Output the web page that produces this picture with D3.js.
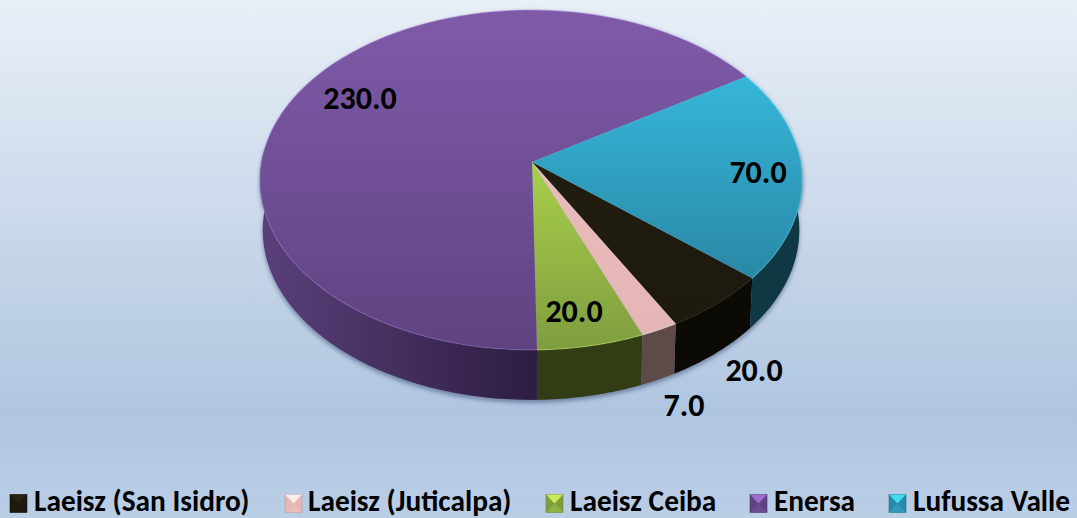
<!DOCTYPE html>
<html><head><meta charset="utf-8">
<script src="https://cdn.jsdelivr.net/npm/d3@7"></script>
<style>html,body{margin:0;padding:0;background:#fff}svg{display:block}text{font-family:"Carlito","Open Sans","Noto Sans",sans-serif}</style>
</head><body><div id="c"></div>
<script>
const categories=["Laeisz (San Isidro)","Laeisz (Juticalpa)","Laeisz Ceiba","Enersa","Lufussa Valle"];
const values=[20,7,20,230,70];
const labels=["20.0","7.0","20.0","230.0","70.0"];
const labelX=[754,684,574,360,758];
const labelY=[381,416,322,109,183];
const topA=["#211d11","#e8bcbb","#a8d04a","#7f5aa9","#36b6d9"];
const topB=["#1d190e","#e4b6b5","#7f9d3f","#5f4381","#2a88a6"];
const sideA=["#0b0a05","#5e4b49","#323c15","#2d1e42","#0f3844"];
const sideB=["#0b0a05","#665250","#343f17","#5a3f7a","#143f4c"];
const W=1077,H=518,cx=531,cy=162,rx=269.5,ry=168,k=0.106,depth=50,shrink=0.99;
const svg=d3.select("#c").append("svg").attr("width",W).attr("height",H);
const defs=svg.append("defs");
const bg=defs.append("linearGradient").attr("id","bg").attr("x1",0).attr("y1",0).attr("x2",0).attr("y2",1);
bg.append("stop").attr("offset",0).attr("stop-color","#e9eff7");
bg.append("stop").attr("offset",0.8).attr("stop-color","#afc5e0");
bg.append("stop").attr("offset",1).attr("stop-color","#bacee6");
svg.append("rect").attr("width",W).attr("height",H).attr("fill","url(#bg)");
const blur=defs.append("filter").attr("id","sh").attr("x","-10%").attr("y","-10%").attr("width","120%").attr("height","120%");
blur.append("feGaussianBlur").attr("stdDeviation",2.2);
const proj=(a,r=1)=>{const u=Math.sin(a)*r,v=Math.cos(a)*r,w=1+k*v;return [cx+rx*u/w,cy-ry*v/w];};
const low=p=>[cx+(p[0]-cx)*shrink,p[1]+depth];
const pie=d3.pie().sort(null).value(d=>d).startAngle(130.1*Math.PI/180).endAngle((130.1+360)*Math.PI/180);
const arcs=pie(values);
const samp=(a,b)=>d3.range(0,91).map(i=>a+(b-a)*i/90);
const line=d3.line();
categories.forEach((c,i)=>{
 const g=defs.append("linearGradient").attr("id","t"+i).attr("x1",0).attr("y1",0).attr("x2",0).attr("y2",1);
 g.append("stop").attr("offset",0).attr("stop-color",topA[i]);
 g.append("stop").attr("offset",1).attr("stop-color",topB[i]);
 const s=defs.append("linearGradient").attr("id","s"+i).attr("gradientUnits","userSpaceOnUse").attr("x1",cx-rx).attr("y1",0).attr("x2",cx).attr("y2",0);
 s.append("stop").attr("offset",0).attr("stop-color",sideB[i]);
 s.append("stop").attr("offset",1).attr("stop-color",sideA[i]);
});
const sil=()=>{
 const a=samp(Math.PI/2-0.1,Math.PI*1.5+0.1).map(t=>proj(t));
 const b=a.slice().reverse().map(low);
 return line(a.concat(b))+"Z";
};
svg.append("path").attr("d",sil()).attr("transform","translate(0,3)").attr("fill","#46597a").attr("opacity",.6).attr("filter","url(#sh)");
svg.append("path").attr("d",line(samp(0,2*Math.PI).map(t=>proj(t)))+"Z").attr("transform","translate(1,1)").attr("fill","#46597a").attr("opacity",.4).attr("filter","url(#sh)");
arcs.forEach((d,i)=>{
 const vis=samp(d.startAngle,d.endAngle).filter(t=>Math.cos(t)<0.12);
 if(vis.length<2)return;
 const a=vis.map(t=>proj(t));
 const b=a.slice().reverse().map(low);
 svg.append("path").attr("d",line(a.concat(b))+"Z").attr("fill",`url(#s${i})`);
});
arcs.forEach((d,i)=>{
 const pts=samp(d.startAngle,d.endAngle).map(t=>proj(t));
 svg.append("path").attr("d",line([[cx+1,cy]].concat(pts))+"Z").attr("fill",`url(#t${i})`);
});
arcs.forEach((d,i)=>{
 const pts=samp(d.startAngle,d.endAngle).map(t=>proj(t));
 svg.append("path").attr("d",line(pts)).attr("fill","none").attr("stroke",d3.color(topA[i]).brighter(0.7)).attr("stroke-opacity",.4).attr("stroke-width",1.2);
});
labels.forEach((t,i)=>{
 svg.append("text").attr("x",labelX[i]).attr("y",labelY[i]).attr("text-anchor","middle").attr("font-size",32).attr("font-weight",700).attr("fill","#000").text(t);
});
const legX=[10,285,546,750,889];
const legTX=[34,308,570,774,913];
categories.forEach((c,i)=>{
 const s=17,h=18,x=legX[i],y=494.5;
 svg.append("rect").attr("x",x).attr("y",y).attr("width",s).attr("height",h).attr("fill",topB[i]).attr("stroke",d3.color(topB[i]).darker(0.5)).attr("stroke-width",.6);
 svg.append("path").attr("d",line([[x,y],[x+s,y],[x+s/2,y+h/2]])+"Z").attr("fill",d3.color(topA[i]).brighter(0.8)).attr("opacity",.8);
 svg.append("path").attr("d",line([[x,y+h],[x+s,y+h],[x+s/2,y+h/2]])+"Z").attr("fill",d3.color(topA[i]).brighter(0.2)).attr("opacity",.3);
 svg.append("text").attr("x",legTX[i]).attr("y",510.5).attr("font-size",29.33).attr("font-weight",700).attr("fill","#000").text(c);
});
</script></body></html>
